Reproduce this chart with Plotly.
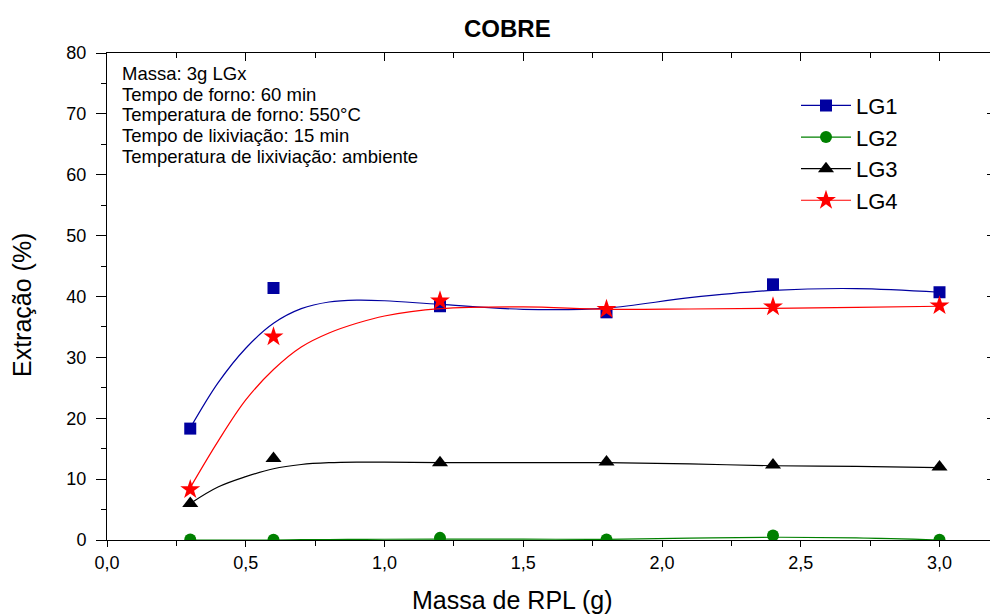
import plotly.graph_objects as go

# ---- data ----
massa = [0.3, 0.6, 1.2, 1.8, 2.4, 3.0]
lg1 = [18.3, 41.4, 38.4, 37.4, 42.0, 40.7]
lg2 = [0.1, 0.05, 0.35, 0.1, 0.75, 0.05]
lg3 = [6.0, 13.4, 12.7, 12.8, 12.3, 12.0]
lg4 = [8.3, 33.4, 39.3, 37.9, 38.3, 38.5]

# smoothed fit curves
curve_x = [0.3, 0.4, 0.5, 0.6, 0.7, 0.8, 0.9, 1.0, 1.2, 1.5, 1.8, 2.1, 2.4, 2.7, 3.0]
lg1_fit = [18.4, 25.8, 31.5, 35.6, 38.0, 39.1, 39.4, 39.3, 38.7, 37.9, 38.1, 39.8, 41.0, 41.3, 40.7]
lg2_fit = [0.0, 0.0, 0.0, 0.0, 0.05, 0.08, 0.1, 0.12, 0.15, 0.15, 0.1, 0.3, 0.45, 0.35, 0.0]
lg3_fit = [6.0, 8.7, 10.4, 11.7, 12.4, 12.7, 12.8, 12.8, 12.7, 12.7, 12.7, 12.5, 12.2, 12.1, 11.9]
lg4_fit = [8.6, 16.2, 23.0, 28.0, 31.7, 34.0, 35.6, 36.8, 38.0, 38.3, 37.9, 37.95, 38.05, 38.2, 38.4]

names = ["LG1", "LG2", "LG3", "LG4"]
points = [lg1, lg2, lg3, lg4]
fits = [lg1_fit, lg2_fit, lg3_fit, lg4_fit]
colors = ["#0000A0", "#008000", "#000000", "#FF0000"]
symbols = ["square", "circle", "triangle-up", "star"]
sizes = [12, 12, 14, 15]

info_lines = [
    "Massa: 3g LGx",
    "Tempo de forno: 60 min",
    "Temperatura de forno: 550°C",
    "Tempo de lixiviação: 15 min",
    "Temperatura de lixiviação: ambiente",
]
info_y = [0.9581, 0.9158, 0.8732, 0.8301, 0.7871]

FONT = "Liberation Sans, Arial, sans-serif"

fig = go.Figure()
for name, pts, fit, c, sym, sz in zip(names, points, fits, colors, symbols, sizes):
    fig.add_trace(go.Scatter(x=curve_x, y=fit, mode="lines", line=dict(color=c, width=1.2, shape="spline", smoothing=1),
                             showlegend=False, hoverinfo="skip"))
    fig.add_trace(go.Scatter(x=massa, y=pts, mode="markers", marker=dict(symbol=sym, size=sz, color=c),
                             showlegend=False))
    fig.add_trace(go.Scatter(x=[None], y=[None], mode="lines+markers", name=name,
                             line=dict(color=c, width=1.2), marker=dict(symbol=sym, size=sz, color=c)))

# dummy trace to activate the mirrored (top/right) axes
fig.add_trace(go.Scatter(x=[None], y=[None], xaxis="x2", yaxis="y2", showlegend=False, hoverinfo="skip"))

axis_common = dict(showgrid=False, zeroline=False, showline=True, linecolor="black", linewidth=1,
                   tickcolor="black", tickwidth=1, tickfont=dict(family=FONT, size=18, color="black"))

annotations = [
    dict(text="<b>COBRE</b>", x=0.4505, y=1.0506, xref="paper", yref="paper", xanchor="center",
         yanchor="middle", showarrow=False, font=dict(family=FONT, size=24, color="black")),
    dict(text="Massa de RPL (g)", x=0.4572, y=-0.1235, xref="paper", yref="paper", xanchor="center",
         yanchor="middle", showarrow=False, font=dict(family=FONT, size=25, color="black")),
    dict(text="Extração (%)", x=-0.0957, y=0.4825, xref="paper", yref="paper", xanchor="center",
         yanchor="middle", textangle=-90, showarrow=False, font=dict(family=FONT, size=25, color="black")),
]
for line, yy in zip(info_lines, info_y):
    annotations.append(dict(text=line, x=0.0146, y=yy, xref="paper", yref="paper", xanchor="left",
                            yanchor="middle", align="left", showarrow=False,
                            font=dict(family=FONT, size=18.5, color="black")))

fig.update_layout(
    width=990, height=607,
    margin=dict(l=99, r=3, t=45, b=75),
    paper_bgcolor="white", plot_bgcolor="white",
    separators=",.",
    font=dict(family=FONT, color="black"),
    showlegend=True,
    legend=dict(x=0.7759, y=0.935, xanchor="left", yanchor="top", bgcolor="rgba(0,0,0,0)",
                itemwidth=50, font=dict(family=FONT, size=22, color="black"), tracegroupgap=0),
    xaxis=dict(range=[0, 3.2], tick0=0, dtick=0.5, tickformat=".1f", ticks="outside", ticklen=6,
               minor=dict(dtick=0.25, ticks="outside", ticklen=5, tickcolor="black"), **axis_common),
    yaxis=dict(range=[0, 80], tick0=0, dtick=10, ticks="outside", ticklen=10, ticklabelstandoff=6,
               minor=dict(dtick=5, ticks="outside", ticklen=5, tickcolor="black"), **axis_common),
    xaxis2=dict(range=[0, 3.2], overlaying="x", side="top", anchor="y", tick0=0, dtick=0.5, ticks="inside",
                ticklen=8, showticklabels=False,
                minor=dict(dtick=0.25, ticks="inside", ticklen=5, tickcolor="black"), **axis_common),
    yaxis2=dict(range=[0, 80], overlaying="y", side="right", anchor="x", tick0=0, dtick=10, ticks="inside",
                ticklen=8, showticklabels=False,
                minor=dict(dtick=5, ticks="inside", ticklen=5, tickcolor="black"), **axis_common),
    annotations=annotations,
)

fig.write_html("out.html")
